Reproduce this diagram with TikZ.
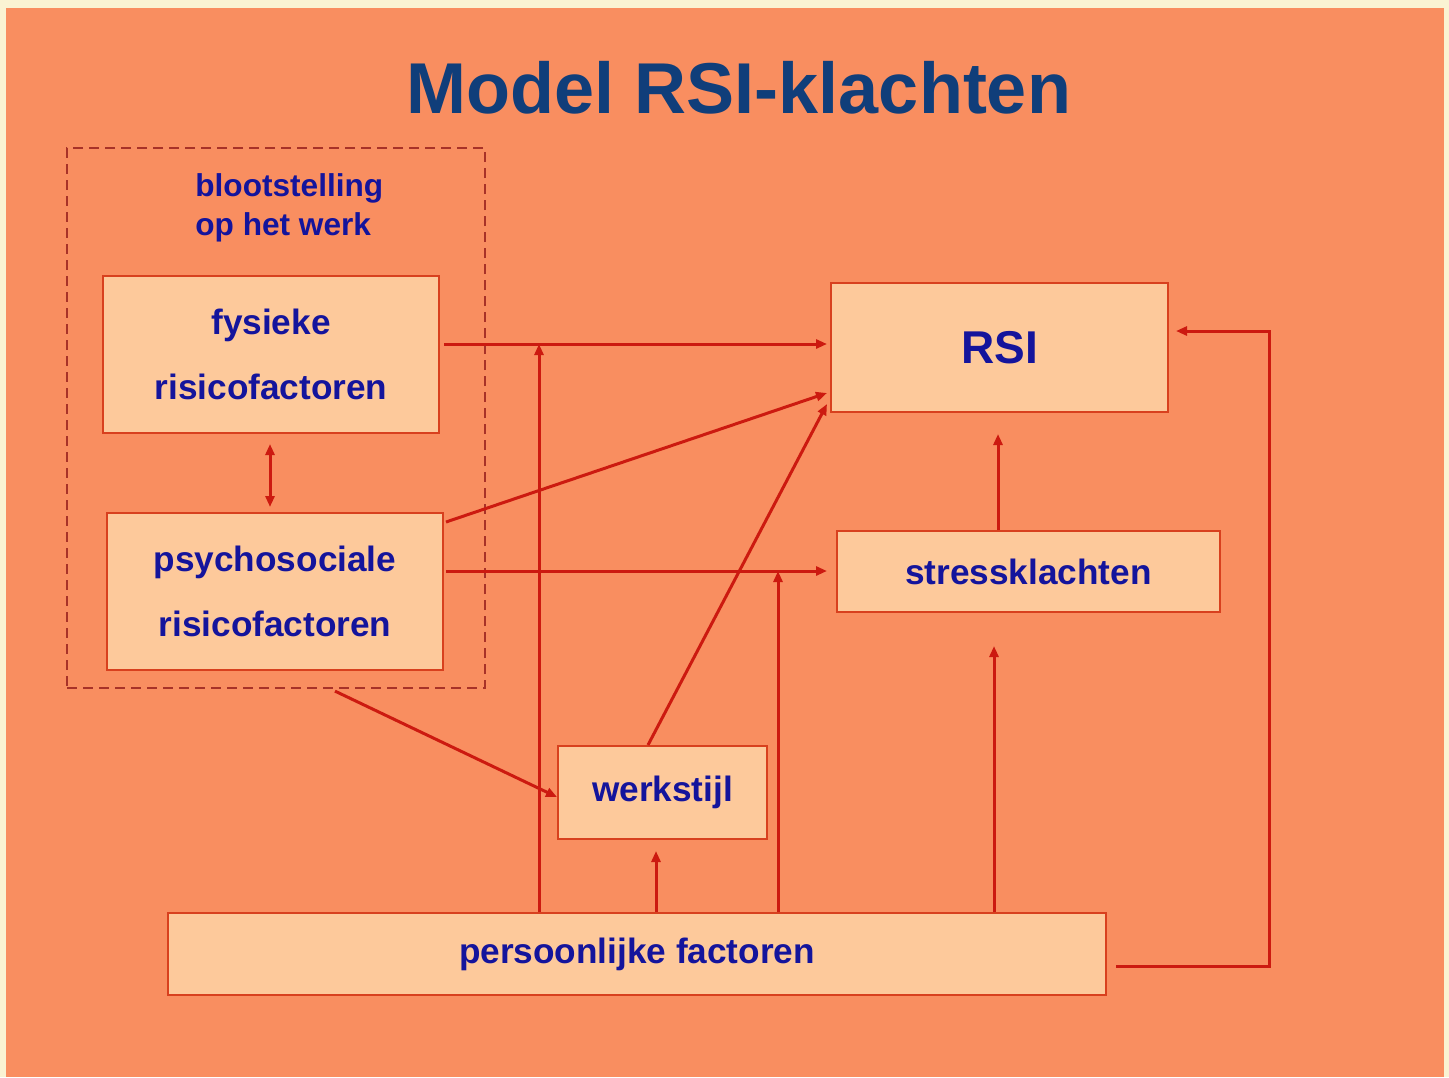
\documentclass[tikz,border=0pt]{standalone}
\usepackage{fontspec}
\setmainfont{Liberation Sans}
\usetikzlibrary{arrows.meta}
\definecolor{cream}{HTML}{FAF3D3}
\definecolor{bgorange}{HTML}{F98E60}
\definecolor{boxfill}{HTML}{FDC99B}
\definecolor{boxline}{HTML}{D8401E}
\definecolor{arrred}{HTML}{CC1A10}
\definecolor{txtblue}{HTML}{14149C}
\definecolor{titleblue}{HTML}{103E7A}
\definecolor{dashline}{HTML}{A83228}
\tikzset{
  box/.style={draw=boxline, line width=1pt, fill=boxfill, text=txtblue,
    font=\bfseries\fontsize{17.6}{32.5}\selectfont, align=center, inner sep=0pt},
  arr/.style={draw=arrred, line width=1.5pt, -{Triangle[length=5.5pt,width=4.5pt]}},
  darr/.style={draw=arrred, line width=1.5pt, {Triangle[length=5.5pt,width=4.5pt]}-{Triangle[length=5.5pt,width=4.5pt]}},
  grp/.style={draw=dashline, line width=1.1pt, dash pattern=on 5pt off 3pt, inner sep=0pt},
}
\begin{document}
\begin{tikzpicture}[x=0.5pt,y=-0.5pt]
\useasboundingbox (0,0) rectangle (1449,1077);
\fill[cream] (0,0) rectangle (1449,1077);
\fill[bgorange] (6,8) rectangle (1444,1077);

\node[text=titleblue, font=\bfseries\fontsize{36}{40}\selectfont] (title) at (739,88) {Model RSI-klachten};

\node[grp, minimum width=209pt, minimum height=270pt] (grp) at (276,418) {};
\node[text=txtblue, font=\bfseries\fontsize{15.8}{19.5}\selectfont, align=left, anchor=west, inner sep=0pt] (expo) at (195,208) {blootstelling\\op het werk};

\node[box, minimum width=168pt, minimum height=78.5pt] (fys) at (271,354.5) {fysieke\\risicofactoren};
\node[box, minimum width=168pt, minimum height=78.5pt] (psy) at (275,591.5) {psychosociale\\risicofactoren};
\node[box, minimum width=168.5pt, minimum height=64.5pt, font=\bfseries\fontsize{23}{26}\selectfont] (rsi) at (999.5,347.5) {RSI};
\node[box, minimum width=191.5pt, minimum height=40.5pt] (stress) at (1028.5,571.5) {stressklachten};
\node[box, minimum width=104.5pt, minimum height=46.5pt] (werk) at (662.5,792.5) {\raisebox{-1.5pt}{werkstijl}};
\node[box, minimum width=469pt, minimum height=41pt] (pers) at (637,954) {\raisebox{-1.5pt}{persoonlijke factoren}};

\coordinate (jA) at (539,344);
\coordinate (jB) at (778,571);
\coordinate (loopc) at (1269,331);

% connectors
\draw[arr] ([xshift=2pt,yshift=5.25pt]fys.east) -- ([xshift=-1.5pt,yshift=1.75pt]rsi.west);
\draw[arr] ([xshift=1pt,yshift=34.75pt]psy.east) -- ([xshift=-1.5pt,yshift=-22.75pt]rsi.west);
\draw[arr] ([xshift=-7.25pt]werk.north) -- ([xshift=-1.5pt,yshift=-28.25pt]rsi.west);
\draw[arr] ([xshift=1pt,yshift=10.25pt]psy.east) -- ([xshift=-4.5pt,yshift=0.25pt]stress.west);
\draw[arr] (pers.north -| jA) -- (jA);
\draw[arr] (pers.north -| jB) -- (jB);
\draw[arr] ([xshift=-3.25pt]werk.south |- pers.north) -- ([xshift=-3.25pt,yshift=-5.5pt]werk.south);
\draw[arr] ([xshift=-17.25pt]stress.south |- pers.north) -- ([xshift=-17.25pt,yshift=-16.5pt]stress.south);
\draw[arr] ([xshift=-15.25pt]stress.north) -- ([xshift=-15.25pt,yshift=-10.5pt]stress.north |- rsi.south);
\draw[arr] ([xshift=4.5pt,yshift=-6pt]pers.east) -| (loopc) -- ([xshift=3.5pt,yshift=8.25pt]rsi.east);
\draw[darr] ([xshift=-0.5pt,yshift=-5pt]fys.south) -- ([xshift=-0.5pt,yshift=2.5pt]fys.south |- psy.north);
\draw[arr] ([xshift=29.5pt,yshift=-1pt]grp.south) -- ([yshift=-2.25pt]werk.west);
\end{tikzpicture}
\end{document}
